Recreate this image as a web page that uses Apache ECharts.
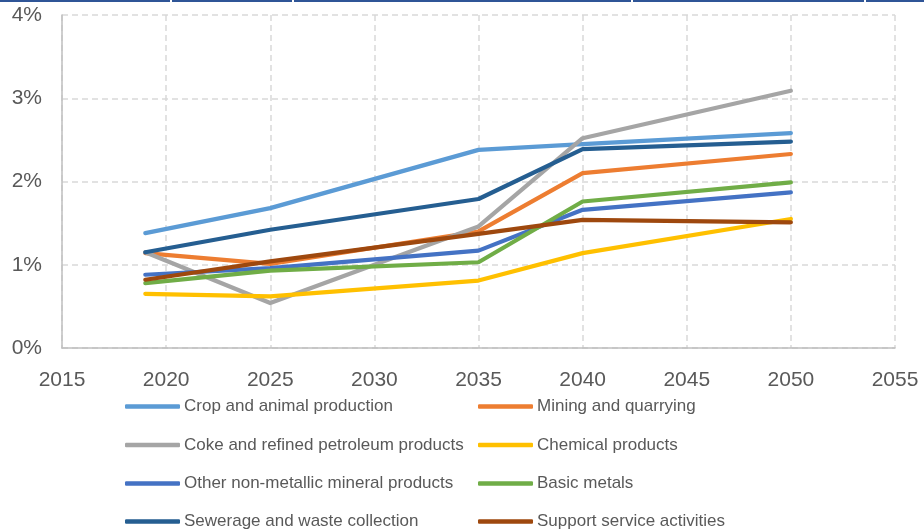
<!DOCTYPE html>
<html>
<head>
<meta charset="utf-8">
<script src="https://cdn.jsdelivr.net/npm/echarts@6/dist/echarts.min.js"></script>
<style>
html,body{margin:0;padding:0;background:#fff;}
#chart{width:924px;height:532px;}
</style>
</head>
<body>
<div id="chart"></div>
<script>
var years = [2019, 2025, 2035, 2040, 2050];
var xTicks = [2015, 2020, 2025, 2030, 2035, 2040, 2045, 2050, 2055];
var yTicks = [0, 1, 2, 3, 4];

var seriesNames = [
  'Crop and animal production',
  'Mining and quarrying',
  'Coke and refined petroleum products',
  'Chemical products',
  'Other non-metallic mineral products',
  'Basic metals',
  'Sewerage and waste collection',
  'Support service activities'
];
var cropAnimal   = [1.38, 1.68, 2.38, 2.45, 2.58];
var mining       = [1.14, 1.01, 1.40, 2.10, 2.33];
var coke         = [1.15, 0.54, 1.46, 2.52, 3.09];
var chemical     = [0.65, 0.62, 0.81, 1.14, 1.55];
var nonMetallic  = [0.88, 0.96, 1.17, 1.66, 1.87];
var basicMetals  = [0.78, 0.93, 1.03, 1.76, 1.99];
var sewerage     = [1.15, 1.42, 1.79, 2.39, 2.48];
var support      = [0.82, 1.04, 1.37, 1.54, 1.51];

var seriesValues = [cropAnimal, mining, coke, chemical, nonMetallic, basicMetals, sewerage, support];
var colors = ['#5B9BD5', '#ED7D31', '#A5A5A5', '#FFC000', '#4472C4', '#70AD47', '#255E91', '#9E480E'];

var font = 'Liberation Sans';
var chart = echarts.init(document.getElementById('chart'), null, {renderer: 'canvas'});

var series = seriesNames.map(function (name, i) {
  return {
    name: name,
    type: 'line',
    data: years.map(function (y, j) { return [y, seriesValues[i][j]]; }),
    showSymbol: false,
    symbol: 'none',
    lineStyle: {width: 4.2, color: colors[i], cap: 'round', join: 'round'},
    itemStyle: {color: colors[i]},
    z: 2 + i,
    animation: false
  };
});

var legendLefts = [125, 478];
var legendTops = [397.5, 436, 474.5, 512.5];
var legends = seriesNames.map(function (name, i) {
  return {
    orient: 'horizontal',
    left: legendLefts[i % 2],
    top: legendTops[Math.floor(i / 2)],
    data: [{name: name, icon: 'roundRect'}],
    itemWidth: 55,
    itemHeight: 4.5,
    selectedMode: false,
    padding: 0,
    textStyle: {fontFamily: font, fontSize: 17, color: '#595959', lineHeight: 18, padding: [0, 0, 0, -1]}
  };
});

chart.setOption({
  animation: false,
  color: colors,
  grid: {left: 62, right: 29, top: 15, bottom: 184, containLabel: false},
  xAxis: {
    type: 'value',
    min: xTicks[0],
    max: xTicks[xTicks.length - 1],
    interval: 5,
    axisLine: {show: true, lineStyle: {color: '#BFBFBF', width: 1.5}},
    axisTick: {show: false},
    axisLabel: {color: '#595959', fontFamily: font, fontSize: 21, margin: 22,
      formatter: function (v) { return String(v); }},
    splitLine: {show: true, lineStyle: {color: '#D9D9D9', type: [6, 4], width: 1.5}}
  },
  yAxis: {
    type: 'value',
    min: yTicks[0],
    max: yTicks[yTicks.length - 1],
    interval: 1,
    axisLine: {show: true, lineStyle: {color: '#BFBFBF', width: 1.5}},
    axisTick: {show: false},
    axisLabel: {color: '#595959', fontFamily: font, fontSize: 21, margin: 20,
      formatter: function (v) { return v + '%'; }},
    splitLine: {show: true, lineStyle: {color: '#D9D9D9', type: [6, 4], width: 1.5}}
  },
  legend: legends,
  graphic: [
    {type: 'rect', left: 0, top: 0, shape: {width: 924, height: 2}, style: {fill: '#2F5597'}, z: 100},
    {type: 'rect', left: 170, top: 0, shape: {width: 2, height: 2}, style: {fill: '#fff'}, z: 101},
    {type: 'rect', left: 292, top: 0, shape: {width: 2, height: 2}, style: {fill: '#fff'}, z: 101},
    {type: 'rect', left: 631, top: 0, shape: {width: 2, height: 2}, style: {fill: '#fff'}, z: 101},
    {type: 'rect', left: 864, top: 0, shape: {width: 2, height: 2}, style: {fill: '#fff'}, z: 101}
  ],
  series: series
});
</script>
</body>
</html>
